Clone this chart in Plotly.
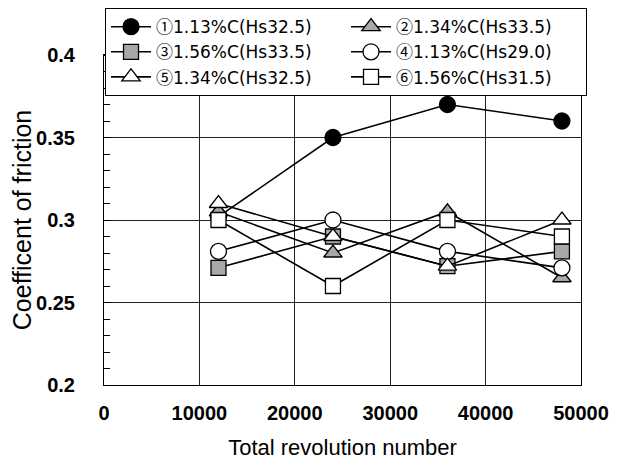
import plotly.graph_objects as go

revolutions = [12000, 24000, 36000, 48000]
names = ["①1.13%C(Hs32.5)", "②1.34%C(Hs33.5)", "③1.56%C(Hs33.5)",
         "④1.13%C(Hs29.0)", "⑤1.34%C(Hs32.5)", "⑥1.56%C(Hs31.5)"]
s1 = [0.302, 0.350, 0.370, 0.360]
s2 = [0.305, 0.280, 0.305, 0.265]
s3 = [0.271, 0.290, 0.272, 0.281]
s4 = [0.281, 0.300, 0.281, 0.271]
s5 = [0.310, 0.290, 0.272, 0.300]
s6 = [0.300, 0.260, 0.300, 0.290]
y_ticks = [0.2, 0.25, 0.3, 0.35, 0.4]
y_tick_labels = ["0.2", "0.25", "0.3", "0.35", "0.4"]
x_ticks = [0, 10000, 20000, 30000, 40000, 50000]

series = [s1, s2, s3, s4, s5, s6]
styles = [
    dict(symbol="circle", color="black", size=16),
    dict(symbol="triangle-up", color="#a8a8a8", size=16),
    dict(symbol="square", color="#a8a8a8", size=15),
    dict(symbol="circle", color="white", size=16),
    dict(symbol="triangle-up", color="white", size=16),
    dict(symbol="square", color="white", size=15),
]

FONT = "Arial, 'Liberation Sans', 'Noto Sans CJK JP', sans-serif"
LEG_FONT = "'DejaVu Sans', 'Noto Sans CJK JP', sans-serif"


def legend_label(name):
    # circled numeral drawn with the CJK font (full-width like the original)
    return ('<span style="font-family:\'Noto Sans CJK JP\'">' + name[0] + "</span>" + name[1:])


fig = go.Figure()
for name, vals, st in zip(names, series, styles):
    fig.add_trace(go.Scatter(
        x=revolutions, y=vals, name=legend_label(name), mode="lines+markers",
        line=dict(color="black", width=1.6),
        marker=dict(symbol=st["symbol"], size=st["size"], color=st["color"],
                    line=dict(color="black", width=1.3)),
    ))

fig.update_layout(
    width=618, height=464,
    margin=dict(l=96, r=45, t=47, b=87, autoexpand=False),
    paper_bgcolor="white", plot_bgcolor="white",
    font=dict(family=FONT, color="black"),
    showlegend=True,
    legend=dict(
        orientation="h", x=1.0126, y=1.142, xanchor="right", yanchor="top",
        bgcolor="white", bordercolor="black", borderwidth=1,
        font=dict(size=17, family=LEG_FONT), entrywidth=185, entrywidthmode="pixels",
        itemwidth=40, traceorder="normal",
    ),
)
fig.update_xaxes(
    range=[0, 50000], tickvals=x_ticks, ticktext=[str(v) for v in x_ticks],
    showgrid=True, gridcolor="#222", gridwidth=1, automargin=False,
    showline=True, linecolor="black", linewidth=1, mirror=True,
    ticks="", ticklabelstandoff=10, zeroline=False,
    tickfont=dict(size=20, family=FONT, weight="bold"),
    title=dict(text="Total revolution number", font=dict(size=22, family=FONT), standoff=16),
)
fig.update_yaxes(
    range=[0.2, 0.4], tickvals=y_ticks, ticktext=y_tick_labels,
    showgrid=True, gridcolor="#222", gridwidth=1, automargin=False,
    showline=True, linecolor="black", linewidth=1, mirror=True,
    ticks="", ticklabelstandoff=24, zeroline=False,
    minor=dict(dtick=0.01, ticks="inside", ticklen=6, tickcolor="black", showgrid=False),
    tickfont=dict(size=20, family=FONT, weight="bold"),
    title=dict(text="Coefficent of friction", font=dict(size=25, family=FONT), standoff=6),
)

fig.write_html("out.html")
